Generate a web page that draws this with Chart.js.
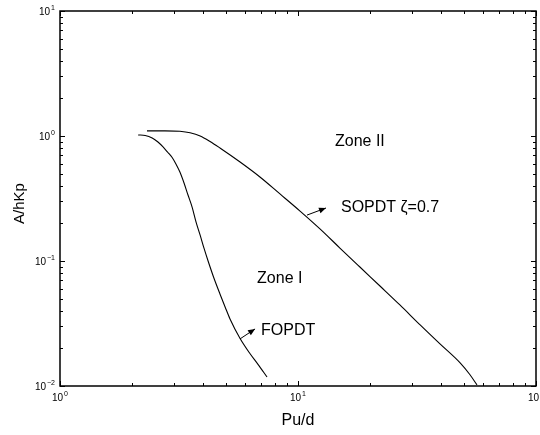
<!DOCTYPE html>
<html>
<head>
<meta charset="utf-8">
<script src="https://cdn.jsdelivr.net/npm/chart.js@4/dist/chart.umd.min.js"></script>
<style>
  html, body { margin: 0; padding: 0; background: #fff; }
  #wrap { width: 540px; height: 435px; }
</style>
</head>
<body>
<div id="wrap"><canvas id="c" width="540" height="435"></canvas></div>
<script>
// Boundary curves on log-log axes: A/hKp against Pu/d
const fopdtX = [2.13, 2.28, 2.44, 2.58, 2.71, 2.84, 2.96, 3.07, 3.19, 3.32, 3.45, 3.59, 3.73, 3.88, 4.03, 4.19, 4.44, 4.70, 4.94, 5.18, 5.71, 6.28, 6.79, 7.41];
const fopdtY = [1.02, 1.01, 0.964, 0.895, 0.817, 0.738, 0.673, 0.597, 0.515, 0.421, 0.337, 0.270, 0.205, 0.161, 0.126, 0.100, 0.0724, 0.0545, 0.0429, 0.0344, 0.0240, 0.0182, 0.0149, 0.0118];

const sopdtX = [2.32, 2.76, 3.19, 3.52, 3.88, 4.27, 4.70, 5.71, 6.92, 8.40, 10.2, 12.4, 15.0, 18.2, 22.1, 26.8, 32.6, 39.5, 48.0, 52.8, 56.5];
const sopdtY = [1.10, 1.10, 1.09, 1.06, 1.00, 0.904, 0.802, 0.619, 0.470, 0.344, 0.251, 0.180, 0.127, 0.0895, 0.0631, 0.0445, 0.0308, 0.0217, 0.0153, 0.0123, 0.0102];

// Decade ticks and their exponent labels
const xDecades = [1, 10, 100];
const xExponents = ['0', '1', '2'];
const yDecades = [0.01, 0.1, 1, 10];
const yExponents = ['\u22122', '\u22121', '0', '1'];

// Text notes and arrows, placed in data coordinates
const notes = [
  { text: 'Zone II', x: 14.3, y: 0.895 },
  { text: 'Zone I', x: 6.73, y: 0.0718 },
  { text: 'FOPDT', x: 6.99, y: 0.0275 },
  { text: 'SOPDT \u03B6=0.7', x: 15.16, y: 0.2655 }
];
const arrows = [
  { x0: 5.705, y0: 0.0238, x1: 6.60, y1: 0.0286 },
  { x0: 10.91, y0: 0.233, x1: 13.11, y1: 0.2655 }
];

const toPoints = (xs, ys) => xs.map((v, i) => ({ x: v, y: ys[i] }));

const FONT = '"Liberation Sans", Arial, sans-serif';

function drawPower(ctx, exp, px, py, align) {
  ctx.font = '10px ' + FONT;
  const wb = ctx.measureText('10').width;
  ctx.font = '7px ' + FONT;
  const we = ctx.measureText(exp).width;
  const total = wb + 1 + we;
  const left = align === 'center' ? px - total / 2 : px - total;
  ctx.textAlign = 'left';
  ctx.textBaseline = 'alphabetic';
  ctx.font = '10px ' + FONT;
  ctx.fillText('10', left, py);
  ctx.font = '7px ' + FONT;
  ctx.fillText(exp, left + wb + 1, py - 5);
}

function drawArrow(ctx, ax, ay, bx, by) {
  ctx.beginPath();
  ctx.moveTo(ax, ay);
  ctx.lineTo(bx, by);
  ctx.stroke();
  const ang = Math.atan2(by - ay, bx - ax);
  const len = 7, half = 3;
  const cx = bx - len * Math.cos(ang), cy = by - len * Math.sin(ang);
  ctx.beginPath();
  ctx.moveTo(bx, by);
  ctx.lineTo(cx + half * Math.sin(ang), cy - half * Math.cos(ang));
  ctx.lineTo(cx - half * Math.sin(ang), cy + half * Math.cos(ang));
  ctx.closePath();
  ctx.fill();
}

const framePlugin = {
  id: 'frame',
  afterDraw(chart) {
    const { ctx, chartArea: a, scales: { x, y } } = chart;
    ctx.save();
    ctx.strokeStyle = '#000';
    ctx.fillStyle = '#000';

    // inward tick marks on all four sides
    ctx.lineWidth = 1;
    const tickX = (v, len) => {
      const px = Math.round(x.getPixelForValue(v)) + 0.5;
      ctx.beginPath();
      ctx.moveTo(px, a.bottom); ctx.lineTo(px, a.bottom - len);
      ctx.moveTo(px, a.top); ctx.lineTo(px, a.top + len);
      ctx.stroke();
    };
    const tickY = (v, len) => {
      const py = Math.round(y.getPixelForValue(v)) + 0.5;
      ctx.beginPath();
      ctx.moveTo(a.left, py); ctx.lineTo(a.left + len, py);
      ctx.moveTo(a.right, py); ctx.lineTo(a.right - len, py);
      ctx.stroke();
    };
    xDecades.forEach((d, i) => {
      tickX(d, 5);
      if (i < xDecades.length - 1) for (let m = 2; m <= 9; m++) tickX(d * m, 3);
    });
    yDecades.forEach((d, i) => {
      tickY(d, 5);
      if (i < yDecades.length - 1) for (let m = 2; m <= 9; m++) tickY(d * m, 3);
    });

    // box
    ctx.lineWidth = 1.5;
    ctx.strokeRect(a.left, a.top, a.right - a.left, a.bottom - a.top);

    // tick labels
    xDecades.forEach((d, i) => drawPower(ctx, xExponents[i], x.getPixelForValue(d), a.bottom + 15, 'center'));
    yDecades.forEach((d, i) => drawPower(ctx, yExponents[i], a.left - 5, y.getPixelForValue(d) + 4, 'right'));

    // axis titles
    ctx.font = '16px ' + FONT;
    ctx.textAlign = 'center';
    ctx.textBaseline = 'middle';
    ctx.fillText('Pu/d', (a.left + a.right) / 2, 421);
    ctx.save();
    ctx.translate(20, (a.top + a.bottom) / 2 + 5);
    ctx.rotate(-Math.PI / 2);
    ctx.font = '15px ' + FONT;
    ctx.fillText('A/hKp', 0, 0);
    ctx.restore();

    // notes
    ctx.font = '16px ' + FONT;
    ctx.textAlign = 'left';
    ctx.textBaseline = 'middle';
    notes.forEach(n => ctx.fillText(n.text, x.getPixelForValue(n.x), y.getPixelForValue(n.y)));

    // arrows
    ctx.lineWidth = 1;
    arrows.forEach(r => drawArrow(ctx,
      x.getPixelForValue(r.x0), y.getPixelForValue(r.y0),
      x.getPixelForValue(r.x1), y.getPixelForValue(r.y1)));

    ctx.restore();
  }
};

new Chart(document.getElementById('c'), {
  type: 'scatter',
  data: {
    datasets: [
      { label: 'FOPDT', data: toPoints(fopdtX, fopdtY) },
      { label: 'SOPDT', data: toPoints(sopdtX, sopdtY) }
    ]
  },
  options: {
    responsive: false,
    animation: false,
    devicePixelRatio: 1,
    showLine: true,
    layout: { padding: { left: 60, top: 11, right: 4, bottom: 49 } },
    elements: {
      point: { radius: 0, hoverRadius: 0 },
      line: { borderColor: '#000', borderWidth: 1.1, cubicInterpolationMode: 'monotone', fill: false }
    },
    plugins: { legend: { display: false }, tooltip: { enabled: false } },
    scales: {
      x: { type: 'logarithmic', min: 1, max: 100, display: false },
      y: { type: 'logarithmic', min: 0.01, max: 10, display: false }
    }
  },
  plugins: [framePlugin]
});
</script>
</body>
</html>
